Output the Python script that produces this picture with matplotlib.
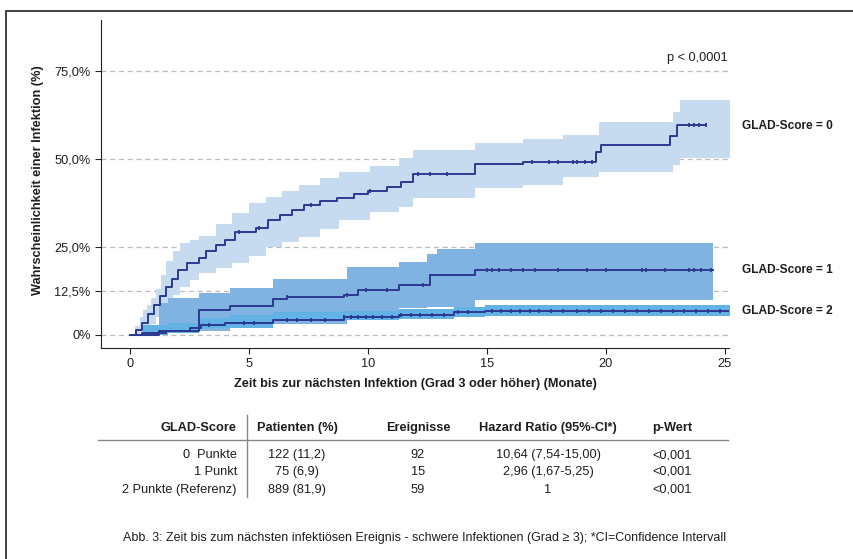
import matplotlib.pyplot as plt
import numpy as np
from matplotlib.patches import Rectangle

plt.rcParams['font.family'] = ['Liberation Sans', 'DejaVu Sans']

# Kaplan-Meier Kurven (Zeit in Monaten, Wahrscheinlichkeit in %)
t0 = [0, 0.25, 0.5, 0.75, 1.0, 1.25, 1.5, 1.75, 2.0, 2.4, 2.9, 3.2, 3.6, 4.0, 4.4, 5.3, 5.8,
      6.3, 6.8, 7.3, 8.0, 8.7, 9.4, 10.0, 10.8, 11.4, 11.9, 14.5, 16.5, 19.6, 19.8, 22.7, 23.0, 24.2]
v0 = [0, 1.5, 3.5, 6, 8.5, 11, 13.5, 16, 18.5, 20.5, 22, 24, 25.5, 27, 29.4, 30.5, 32.7,
      34, 35.5, 37, 38, 39, 40, 41, 42, 43.6, 45.7, 48.5, 49.2, 52, 54, 56.5, 59.7, 59.7]
t1 = [0, 1.2, 2.9, 4.2, 6.0, 6.6, 9.0, 9.6, 11.3, 12.6, 14.5, 24.5]
v1 = [0, 1, 7.1, 8.2, 10.1, 10.7, 11.4, 12.8, 14.2, 17, 18.5, 18.5]
t2 = [0, 0.5, 1.5, 2.5, 3.0, 4.0, 6.0, 9.0, 11.3, 13.6, 14.9, 25.2]
v2 = [0, 0.5, 1.0, 2.0, 2.9, 3.5, 4.3, 5.0, 5.7, 6.5, 6.9, 6.9]

# Konfidenzbaender
bt0 = [0, 0.2, 0.4, 0.55, 0.7, 0.9, 1.1, 1.3, 1.5, 1.8, 2.1, 2.5, 2.9, 3.6, 4.3, 5.0, 5.7,
       6.4, 7.1, 8.0, 8.8, 10.1, 11.3, 11.9, 14.5, 16.5, 18.2, 19.7, 22.8, 23.1, 25.2]
up0 = [0, 2.5, 5, 7, 8.5, 10.5, 13, 17, 21, 24, 26, 27, 28, 31.5, 34.6, 37.5, 39.3,
       41, 42.6, 44.5, 46.3, 48, 50.3, 52.6, 54.6, 55.7, 56.8, 60.6, 63.4, 66.8, 66.8]
lo0 = [0, 0.2, 0.5, 1.0, 1.4, 3.0, 5.2, 7.0, 9, 11.5, 13.7, 15.5, 17.5, 19, 20.4, 22.5, 25,
       26.5, 27.9, 30, 32.7, 35, 36.5, 38.9, 41.8, 42.6, 44.9, 46.4, 48.3, 50.2, 50.2]
bt1 = [0.6, 1.2, 1.6, 2.9, 4.2, 6.0, 9.1, 11.3, 12.5, 12.9, 14.5, 24.5]
up1 = [2.8, 9.0, 10.5, 11.9, 13.3, 15.9, 19.4, 20.8, 23.0, 24.4, 26.2, 26.2]
lo1 = [0, 0.3, 0.5, 1.0, 2.0, 3.0, 4.5, 7.6, 8.0, 8.0, 9.9, 9.9]
bt2 = [0.55, 1.6, 2.9, 4.2, 6.0, 9.0, 11.3, 13.6, 14.9, 25.2]
up2 = [2.8, 3.4, 4.8, 5.7, 6.6, 6.8, 7.3, 8.0, 8.5, 8.5]
lo2 = [0, 0.7, 2.0, 2.0, 4.3, 4.3, 4.4, 5.0, 5.4, 5.4]

# zensierte Beobachtungen
c0 = [4.6, 5.4, 7.6, 10.1, 12.1, 12.6, 13.3, 16.9, 17.6, 18.0, 18.6, 18.8, 19.1, 19.4,
      23.5, 23.7, 23.9, 24.2]
c1 = [6.6, 9.1, 9.9, 10.8, 12.3, 15.0, 15.2, 15.5, 16.0, 16.5, 17.0, 18.0, 19.2, 20.0,
      21.5, 21.7, 22.5, 23.5, 23.7, 24.0, 24.4]
c2 = [3.3, 4.8, 5.2, 6.6, 7.0, 7.6, 8.2, 9.0, 9.3, 9.6, 9.9, 10.2, 10.6, 11.0, 11.4, 11.8,
      12.2, 12.7, 13.2, 13.8, 14.2, 15.2, 15.6, 16.0, 16.4, 16.8, 17.2, 17.7, 18.2, 18.8,
      19.3, 19.8, 20.3, 20.8, 21.3, 21.8, 22.3, 22.8, 23.3, 23.8, 24.3, 24.8]

gruppen = ['GLAD-Score = 0', 'GLAD-Score = 1', 'GLAD-Score = 2']
yticks = [0, 12.5, 25, 50, 75]
yticklabels = ['0%', '12,5%', '25,0%', '50,0%', '75,0%']

# Tabelle
spalten = ['GLAD-Score', 'Patienten (%)', 'Ereignisse', 'Hazard Ratio (95%-CI*)', 'p-Wert']
zeilen = ['0  Punkte', '1 Punkt', '2 Punkte (Referenz)']
patienten = ['122 (11,2)', '75 (6,9)', '889 (81,9)']
ereignisse = ['92', '15', '59']
hr = ['10,64 (7,54-15,00)', '2,96 (1,67-5,25)', '1']
pwert = ['<0,001', '<0,001', '<0,001']

navy = '#2b3990'
txt = '#1e1e1e'
fs = 9.2
W, H = 854, 559

fig = plt.figure(figsize=(W / 100, H / 100), dpi=100)
ax = fig.add_axes([101 / W, 1 - 348 / H, 628 / W, 328 / H])

ax.fill_between(bt0, lo0, up0, step='post', color='#c6dbf0', lw=0)
ax.fill_between(bt1, lo1, up1, step='post', color='#80b3e1', lw=0)
ax.fill_between(bt2, lo2, up2, step='post', color='#62b2e6', lw=0)

for t, v, c in [(t0, v0, c0), (t1, v1, c1), (t2, v2, c2)]:
    ax.step(t, v, where='post', color=navy, lw=1.4)
    idx = np.searchsorted(t, c, side='right') - 1
    ax.plot(c, np.array(v)[idx], ls='none', marker='|', ms=3, mew=1.3, color=navy)

for y in yticks:
    ax.axhline(y, color='#bbbbbb', ls=(0, (4, 3)), lw=0.9, zorder=0)

ax.set_xlim(-1.22, 25.17)
ax.set_ylim(-3.7, 89.5)
ax.set_xticks([0, 5, 10, 15, 20, 25])
ax.set_yticks(yticks)
ax.set_yticklabels(yticklabels)
ax.tick_params(labelsize=fs, length=4, color='#222222', labelcolor=txt)
for s in ['top', 'right']:
    ax.spines[s].set_visible(False)
for s in ['left', 'bottom']:
    ax.spines[s].set_color('#222222')
ax.set_xlabel('Zeit bis zur nächsten Infektion (Grad 3 oder höher) (Monate)',
              fontsize=fs, fontweight='bold', color=txt)
ax.set_ylabel('Wahrscheinlichkeit einer Infektion (%)', fontsize=fs, fontweight='bold', color=txt)
ax.xaxis.set_label_coords(0.5, -0.092)
ax.yaxis.set_label_coords(-0.09, 0.512)

ax.text(25.1, 77, 'p < 0,0001', ha='right', va='bottom', fontsize=fs, color=txt)
for label, y in zip(gruppen, [59.5, 18.5, 6.9]):
    ax.text(25.7, y, label, ha='left', va='center', fontsize=8.6, fontweight='bold',
            color=txt, clip_on=False)

# Tabelle unter der Grafik
xs = [237, 297, 418, 548, 672]
def fy(p):
    return 1 - p / H
for i, name in enumerate(spalten):
    fig.text(xs[i] / W, fy(428), name, ha='right' if i == 0 else 'center', va='center',
             fontsize=fs, fontweight='bold', color=txt)
for r, yy in enumerate([455, 472, 490]):
    fig.text(xs[0] / W, fy(yy), zeilen[r], ha='right', va='center', fontsize=fs, color=txt)
    for i, col in enumerate([patienten, ereignisse, hr, pwert], start=1):
        fig.text(xs[i] / W, fy(yy), col[r], ha='center', va='center', fontsize=fs, color=txt)
fig.add_artist(plt.Line2D([98 / W, 728 / W], [fy(440), fy(440)], color='#888888', lw=1))
fig.add_artist(plt.Line2D([247 / W, 247 / W], [fy(415), fy(497)], color='#888888', lw=1))

fig.text(123 / W, fy(538), 'Abb. 3: Zeit bis zum nächsten infektiösen Ereignis - schwere Infektionen '
         '(Grad ≥ 3); *CI=Confidence Intervall', ha='left', va='center', fontsize=9.0, color=txt)

fig.add_artist(Rectangle((6 / W, -0.05), 1.0, fy(11) + 0.05, transform=fig.transFigure,
                         fill=False, ec='#222222', lw=1.2))

fig.savefig('out.png', dpi=100)
